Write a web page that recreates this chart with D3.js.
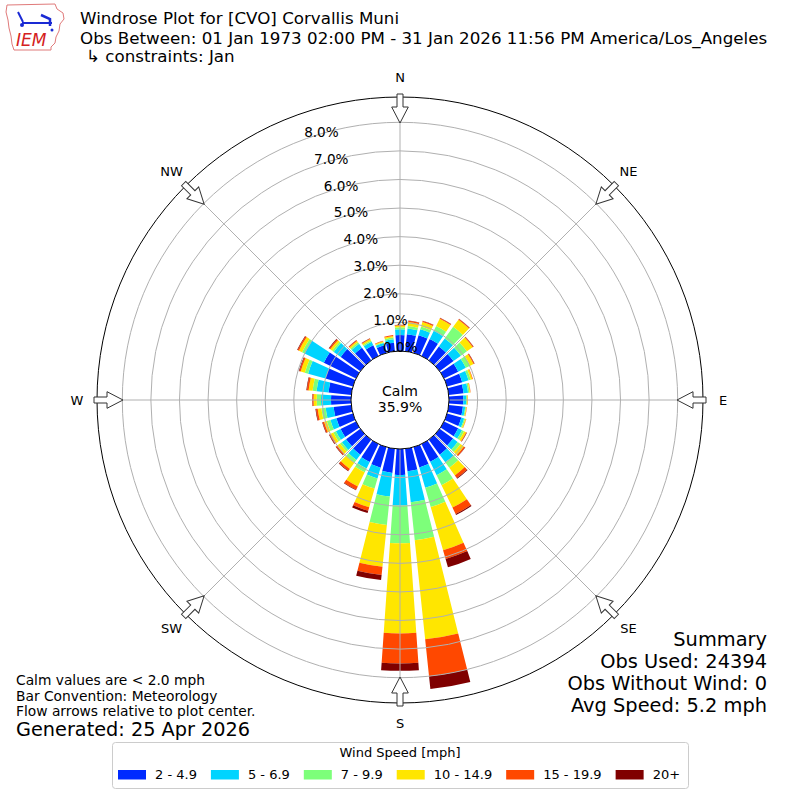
<!DOCTYPE html>
<html><head><meta charset="utf-8">
<script src="https://cdn.jsdelivr.net/npm/d3@7"></script>
<style>
body{margin:0;background:#fff}
svg{display:block}
text{font-family:"DejaVu Sans",sans-serif;fill:#000}
</style>
</head><body>
<svg id="chart" width="800" height="800"></svg>
<script>
// ---------------- data ----------------
const directions = [0,10,20,30,40,50,60,70,80,90,100,110,120,130,140,150,160,170,
                    180,190,200,210,220,230,240,250,260,270,280,290,300,310,320,330,340,350];
const speedBins = ["2 - 4.9","5 - 6.9","7 - 9.9","10 - 14.9","15 - 19.9","20+"];
const binColors = ["#002aff","#00d4ff","#7dff7a","#ffe600","#ff4800","#800000"];
// percent of observations per direction, one array per speed bin
const pct_2_5   = [0.56,0.60,0.64,0.66,0.60,0.60,0.55,0.55,0.52,0.50,0.50,0.52,0.55,0.58,0.65,0.69,0.74,0.79,
                   0.91,0.85,0.75,0.70,0.65,0.62,0.60,0.60,0.62,0.70,0.80,1.00,1.25,0.85,0.55,0.42,0.28,0.30];
const pct_5_7   = [0.20,0.20,0.22,0.32,0.35,0.32,0.30,0.23,0.16,0.10,0.08,0.10,0.15,0.20,0.33,0.52,0.74,1.09,
                   1.07,0.83,0.39,0.25,0.23,0.18,0.18,0.22,0.28,0.35,0.42,0.63,0.75,0.30,0.17,0.13,0.08,0.12];
const pct_7_10  = [0.07,0.09,0.10,0.19,0.50,0.26,0.17,0.08,0.05,0.03,0.03,0.04,0.08,0.12,0.24,0.39,0.70,1.34,
                   1.32,1.00,0.37,0.15,0.12,0.08,0.10,0.13,0.15,0.15,0.14,0.12,0.10,0.07,0.06,0.05,0.03,0.06];
const pct_10_15 = [0.06,0.14,0.16,0.28,0.31,0.25,0.13,0.06,0.03,0.02,0.02,0.03,0.08,0.15,0.33,0.87,1.57,3.48,
                   3.15,1.47,0.68,0.55,0.27,0.12,0.10,0.10,0.13,0.11,0.14,0.15,0.12,0.08,0.06,0.06,0.03,0.06];
const pct_15_20 = [0.02,0.04,0.04,0.03,0.03,0.03,0.03,0.02,0.01,0.01,0.01,0.01,0.02,0.05,0.11,0.25,0.32,1.30,
                   1.05,0.29,0.13,0.13,0.08,0.05,0.05,0.05,0.06,0.04,0.06,0.05,0.05,0.05,0.03,0.02,0.02,0.03];
const pct_20p   = [0.01,0.01,0.01,0.01,0.01,0.01,0.01,0.00,0.00,0.00,0.00,0.00,0.01,0.01,0.03,0.04,0.30,0.45,
                   0.26,0.18,0.08,0.02,0.02,0.02,0.02,0.02,0.02,0.01,0.02,0.02,0.02,0.02,0.01,0.01,0.00,0.00];
const ringTicks = [0,1,2,3,4,5,6,7,8];
const ringLabels = ["0.0%","1.0%","2.0%","3.0%","4.0%","5.0%","6.0%","7.0%","8.0%"];
const compassLabels = ["N","NE","E","SE","S","SW","W","NW"];
const compassAngles = [0,45,90,135,180,225,270,315];
const calmPct = "35.9%";
const titleLines = ["Windrose Plot for [CVO] Corvallis Muni",
  "Obs Between: 01 Jan 1973 02:00 PM - 31 Jan 2026 11:56 PM America/Los_Angeles"];
const constraintLine = "\u21b3 constraints: Jan";
const noteLines = ["Calm values are < 2.0 mph","Bar Convention: Meteorology","Flow arrows relative to plot center."];
const generatedLine = "Generated: 25 Apr 2026";
const summaryLines = ["Summary","Obs Used: 24394","Obs Without Wind: 0","Avg Speed: 5.2 mph"];
const legendTitle = "Wind Speed [mph]";

// ---------------- layout ----------------
const svg = d3.select("#chart");
const cx = 400, cy = 400;
const rOuter = 303;
const r = d3.scaleLinear().domain([0, 8]).range([49, 277.7]);
const toRad = d => d * Math.PI / 180;
const halfWidth = 4; // degrees each side of a bar

const rows = directions.map((d, i) => ({
  dir: d, b0: pct_2_5[i], b1: pct_5_7[i], b2: pct_7_10[i],
  b3: pct_10_15[i], b4: pct_15_20[i], b5: pct_20p[i]
}));
const keys = ["b0","b1","b2","b3","b4","b5"];
const stacked = d3.stack().keys(keys)(rows);

const g = svg.append("g").attr("transform", `translate(${cx},${cy})`);

// bars
const arc = d3.arc()
  .innerRadius(d => r(d[0]))
  .outerRadius(d => r(d[1]))
  .startAngle(d => toRad(d.data.dir - halfWidth))
  .endAngle(d => toRad(d.data.dir + halfWidth));

stacked.forEach((layer, li) => {
  g.append("g").selectAll("path").data(layer).join("path")
    .attr("d", arc)
    .attr("fill", binColors[li]);
});

// grid rings and spokes (over bars)
const grid = g.append("g").attr("fill", "none").attr("stroke", "#b0b0b0").attr("stroke-width", 1);
grid.selectAll("circle").data(ringTicks.slice(1)).join("circle").attr("r", d => r(d));
grid.selectAll("line").data(compassAngles).join("line")
  .attr("x1", 0).attr("y1", 0)
  .attr("x2", d => rOuter * Math.sin(toRad(d)))
  .attr("y2", d => -rOuter * Math.cos(toRad(d)));

// outer circle
g.append("circle").attr("r", rOuter).attr("fill", "none").attr("stroke", "#000").attr("stroke-width", 1);

// calm circle
g.append("circle").attr("r", r(0)).attr("fill", "#fff").attr("stroke", "#000").attr("stroke-width", 1);
g.append("text").attr("x", 0).attr("y", -4).attr("text-anchor", "middle").attr("font-size", 14).text("Calm");
g.append("text").attr("x", 0).attr("y", 12).attr("text-anchor", "middle").attr("font-size", 14).text(calmPct);

// radial tick labels
const labAng = toRad(20.2);
g.append("g").selectAll("text").data(ringTicks).join("text")
  .attr("x", d => -r(d) * Math.sin(labAng))
  .attr("y", d => -r(d) * Math.cos(labAng) - 2.5)
  .attr("font-size", 13.6)
  .text((d, i) => ringLabels[i]);

// flow arrows (pointing toward center)
const tailR = rOuter + 3, neckR = rOuter - 10, tipR = rOuter - 26;
const arrowPath = `M-3,${-tailR} L3,${-tailR} L3,${-neckR} L8.3,${-neckR} L0,${-tipR} L-8.3,${-neckR} L-3,${-neckR} Z`;
g.append("g").selectAll("path").data(compassAngles).join("path")
  .attr("d", arrowPath)
  .attr("transform", d => `rotate(${d})`)
  .attr("fill", "#fff").attr("stroke", "#333").attr("stroke-width", 1);

// compass labels
g.append("g").selectAll("text").data(compassAngles).join("text")
  .attr("x", d => 323 * Math.sin(toRad(d)))
  .attr("y", d => -323 * Math.cos(toRad(d)))
  .attr("text-anchor", "middle").attr("dominant-baseline", "central")
  .attr("font-size", 13)
  .text((d, i) => compassLabels[i]);

// ---------------- titles ----------------
svg.append("text").attr("x", 80).attr("y", 24).attr("font-size", 16.7).text(titleLines[0]);
svg.append("text").attr("x", 80).attr("y", 43.5).attr("font-size", 16.7).text(titleLines[1]);
svg.append("text").attr("x", 86).attr("y", 62).attr("font-size", 16.7).text(constraintLine);

// logo
const logo = svg.append("g");
logo.append("path")
  .attr("d", "M7,5 L55,4 L57,9 L63,13 L64,19 L60,24 L59,31 L56,37 L55,43 L51,47 L51,50 L14,50 L12,44 L11,36 L9,28 L8,20 L6,12 Z")
  .attr("fill", "none").attr("stroke", "#e07a7a").attr("stroke-width", 1);
logo.append("text").attr("x", 16).attr("y", 46).attr("font-size", 17)
  .attr("font-family", "Liberation Serif, serif").attr("font-style", "italic")
  .style("fill", "#d42020").text("IEM");
const barb = logo.append("g").attr("stroke", "#1a2ad4").attr("stroke-width", 2).attr("fill", "none");
barb.append("line").attr("x1", 22).attr("y1", 23).attr("x2", 52).attr("y2", 23);
barb.append("line").attr("x1", 18).attr("y1", 12).attr("x2", 23).attr("y2", 22);
barb.append("path").attr("d", "M41,15 L50,19 L50,26").attr("stroke-width", 2.5);
logo.append("circle").attr("cx", 22).attr("cy", 25).attr("r", 2).attr("fill", "#1a2ad4");
logo.append("circle").attr("cx", 52).attr("cy", 30).attr("r", 1.5).attr("fill", "#1a2ad4");

// notes bottom-left
noteLines.forEach((t, i) => {
  svg.append("text").attr("x", 16).attr("y", 685 + i * 15.6).attr("font-size", 13.8).text(t);
});
svg.append("text").attr("x", 16).attr("y", 736).attr("font-size", 19.3).text(generatedLine);

// summary bottom-right
summaryLines.forEach((t, i) => {
  svg.append("text").attr("x", 767).attr("y", 646 + i * 22).attr("text-anchor", "end")
    .attr("font-size", 19.4).text(t);
});

// ---------------- legend ----------------
const leg = svg.append("g");
leg.append("rect").attr("x", 112.5).attr("y", 742.5).attr("width", 576).attr("height", 46)
  .attr("rx", 3).attr("fill", "#fff").attr("stroke", "#cccccc").attr("stroke-width", 1);
leg.append("text").attr("x", 400).attr("y", 757).attr("text-anchor", "middle").attr("font-size", 13).text(legendTitle);
let lx = 118;
speedBins.forEach((lab, i) => {
  leg.append("rect").attr("x", lx).attr("y", 770).attr("width", 28).attr("height", 9.5).attr("fill", binColors[i]);
  const t = leg.append("text").attr("x", lx + 37).attr("y", 779).attr("font-size", 13).text(lab);
  lx = lx + 37 + t.node().getComputedTextLength() + 14;
});
</script>
</body></html>
